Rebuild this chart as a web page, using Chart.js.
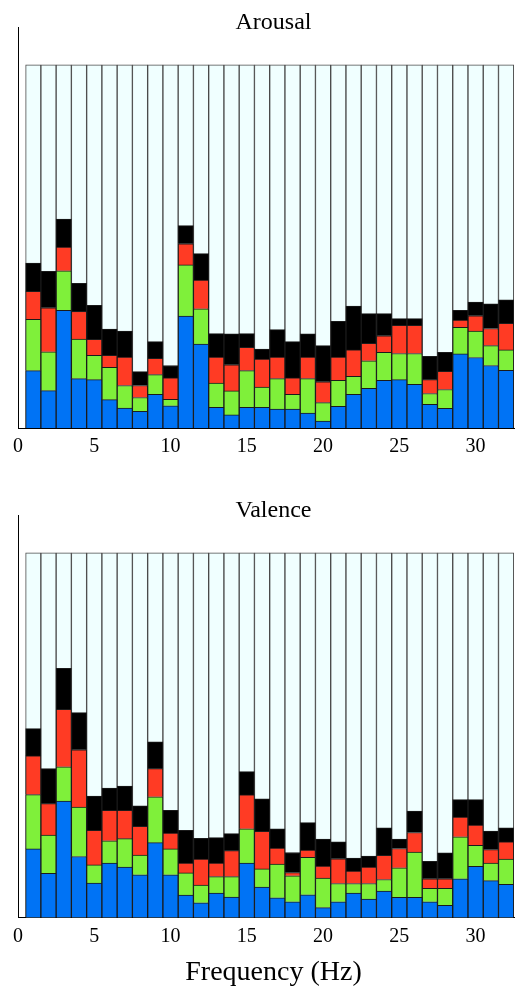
<!DOCTYPE html>
<html>
<head>
    <script src="https://cdn.jsdelivr.net/npm/chart.js@4/dist/chart.umd.min.js"></script>
</head>
<body>
    <div id="arousalBox" class="box" style="top: 0px;">
        <canvas id="arousal" width="529" height="466" role="img" aria-label="Arousal stacked bars per frequency"></canvas>
    </div>
    <div id="valenceBox" class="box" style="top: 488px;">
        <canvas id="valence" width="529" height="500" role="img" aria-label="Valence stacked bars per frequency"></canvas>
    </div>
</body>
</html>

<script>
    // Frequency bins (Hz)
    const freqs = [1, 2, 3, 4, 5, 6, 7, 8, 9, 10, 11, 12, 13, 14, 15, 16,
        17, 18, 19, 20, 21, 22, 23, 24, 25, 26, 27, 28, 29, 30, 31, 32];
    // every bar is filled up to 1 with the pale background
    const fullHeight = [1, 1, 1, 1, 1, 1, 1, 1, 1, 1, 1, 1, 1, 1, 1, 1,
        1, 1, 1, 1, 1, 1, 1, 1, 1, 1, 1, 1, 1, 1, 1, 1];

    // Arousal
    const arousalBlue = [.158, .103, .324, .136, .133, .078, .055, .046, .093, .061, .308, .231, .057, .036, .057, .057,
        .052, .052, .041, .019, .060, .093, .109, .131, .133, .120, .065, .054, .204, .194, .172, .159];
    const arousalGreen = [.141, .107, .109, .109, .067, .089, .062, .038, .054, .018, .141, .097, .067, .066, .101, .056,
        .084, .041, .095, .051, .071, .049, .076, .077, .072, .085, .030, .052, .073, .073, .055, .056];
    const arousalRed = [.077, .121, .065, .076, .044, .033, .078, .033, .045, .059, .058, .079, .071, .072, .064, .077,
        .059, .045, .059, .057, .064, .073, .048, .046, .078, .078, .038, .050, .020, .042, .047, .073];
    const arousalBlack = [.078, .100, .077, .077, .094, .072, .072, .038, .046, .034, .050, .073, .065, .085, .038, .027,
        .076, .100, .064, .100, .099, .121, .082, .061, .018, .018, .064, .052, .027, .038, .068, .065];

    // Valence
    const valenceBlue = [.188, .121, .319, .167, .094, .149, .138, .117, .205, .117, .061, .040, .067, .056, .149, .083,
        .054, .043, .062, .027, .043, .067, .050, .072, .055, .055, .043, .033, .106, .140, .101, .091];
    const valenceGreen = [.149, .105, .094, .136, .050, .061, .078, .054, .126, .071, .061, .049, .045, .056, .094, .050,
        .092, .071, .103, .081, .050, .026, .043, .032, .081, .124, .037, .047, .115, .058, .048, .069];
    const valenceRed = [.106, .086, .158, .157, .095, .084, .078, .079, .077, .043, .027, .071, .037, .071, .093, .103,
        .044, .009, .020, .033, .068, .034, .045, .066, .053, .054, .026, .026, .054, .055, .037, .047];
    const valenceBlack = [.075, .096, .112, .102, .094, .061, .066, .056, .074, .063, .090, .057, .070, .047, .064, .089,
        .053, .055, .075, .074, .046, .036, .030, .076, .026, .059, .048, .071, .048, .070, .051, .039];

    const xTicks = [0, 5, 10, 15, 20, 25, 30];

    Chart.defaults.font.family = "'Liberation Serif', 'Times New Roman', serif";
    Chart.defaults.color = 'black';
    Chart.defaults.plugins.legend.display = false;
    Chart.defaults.plugins.tooltip.enabled = false;

    const points = (values) => values.map((v, i) => ({ x: freqs[i], y: v }));

    const segment = (values, colour) => ({
        data: points(values),
        backgroundColor: colour,
        borderColor: '#1a1a1a',
        borderWidth: 1,
        borderSkipped: 'start',
        order: 0
    });

    const makeChart = (canvasId, title, blue, green, red, black, xTitle) => {
        const ctx = document.getElementById(canvasId);
        return new Chart(ctx, {
            type: 'bar',
            data: {
                datasets: [
                    {
                        data: points(fullHeight),
                        backgroundColor: '#f0ffff',
                        borderColor: '#4a4a4a',
                        borderWidth: 1,
                        borderSkipped: 'start',
                        stack: 'bg',
                        order: 1
                    },
                    segment(blue, '#0073f5'),
                    segment(green, '#7ff03a'),
                    segment(red, '#ff3b24'),
                    segment(black, '#000000')
                ]
            },
            options: {
                responsive: false,
                animation: false,
                grouped: false,
                barPercentage: 1,
                categoryPercentage: 1,
                layout: { padding: { left: 18, right: 0, top: 0, bottom: 0 } },
                plugins: {
                    title: {
                        display: true,
                        text: title,
                        font: { size: 24, weight: 'normal', lineHeight: 1 },
                        padding: { top: 11, bottom: -8 }
                    }
                },
                scales: {
                    x: {
                        type: 'linear',
                        min: 0,
                        max: 33.5,
                        offset: false,
                        grid: { display: false, drawTicks: false },
                        border: { display: true, color: 'black', width: 1 },
                        afterBuildTicks: (axis) => {
                            axis.ticks = xTicks.map(v => ({ value: v }));
                        },
                        ticks: {
                            autoSkip: false,
                            maxRotation: 0,
                            padding: 7,
                            font: { size: 20 }
                        },
                        title: {
                            display: !!xTitle,
                            text: xTitle || '',
                            font: { size: 28, weight: 'normal' },
                            padding: { top: 0, bottom: -1 }
                        }
                    },
                    y: {
                        stacked: true,
                        min: 0,
                        max: 1.104,
                        grid: { display: false, drawTicks: false },
                        border: { display: true, color: 'black', width: 1 },
                        ticks: { display: false }
                    }
                }
            }
        });
    };

    makeChart('arousal', 'Arousal', arousalBlue, arousalGreen, arousalRed, arousalBlack, null);
    makeChart('valence', 'Valence', valenceBlue, valenceGreen, valenceRed, valenceBlack, 'Frequency (Hz)');
</script>

<style>
html, body {
    margin: 0;
    padding: 0;
    background-color: white;
    width: 515px;
    height: 988px;
    overflow: hidden;
}
.box {
    position: absolute;
    left: 0px;
    width: 529px;
}
canvas {
    display: block;
}
</style>
